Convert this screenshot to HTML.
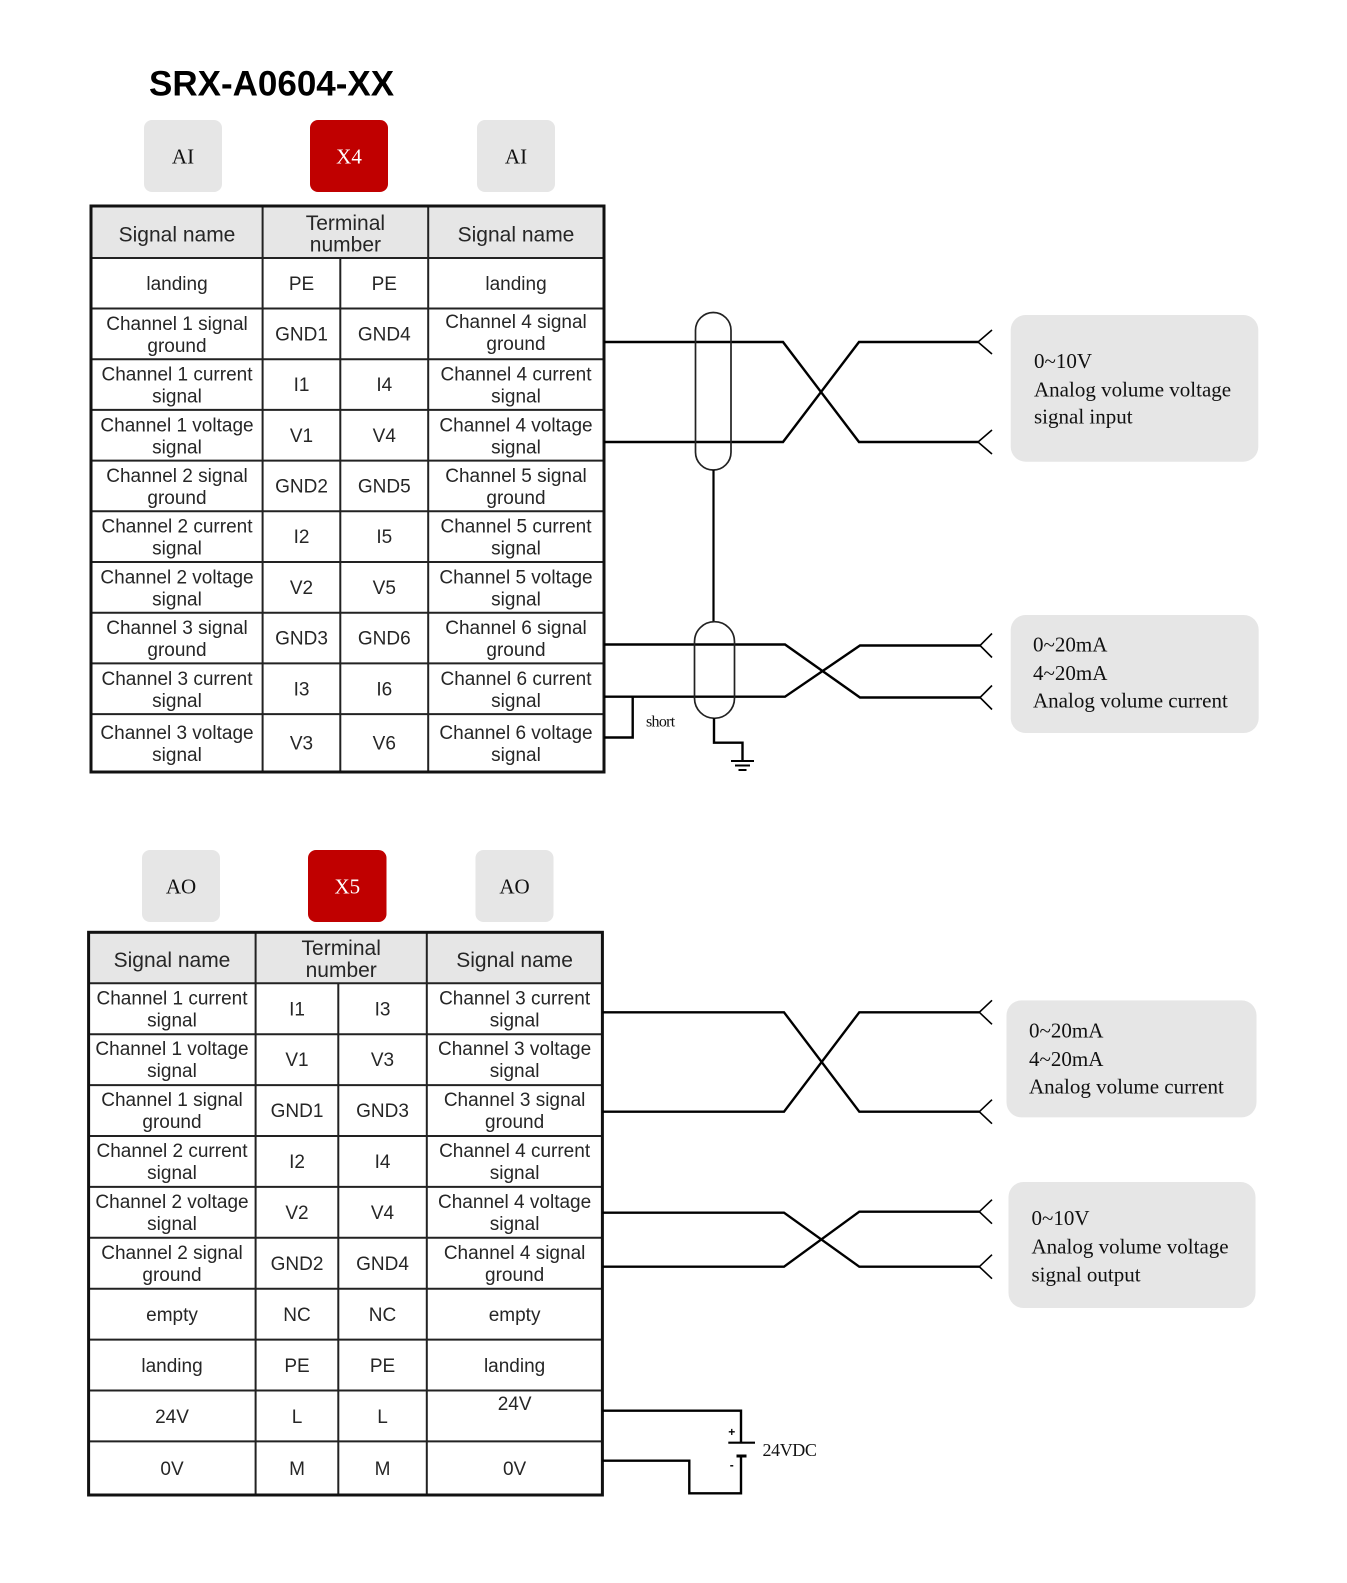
<!DOCTYPE html>
<html><head><meta charset="utf-8"><style>
html,body{margin:0;padding:0;background:#fff;}
svg{display:block;}
.t{font-family:"Liberation Sans",Arial,sans-serif;font-size:19px;fill:#262626;text-anchor:middle;}
.h{font-family:"Liberation Sans",Arial,sans-serif;font-size:21px;fill:#262626;text-anchor:middle;}
.b{font-family:"Liberation Serif","Times New Roman",serif;font-size:21px;text-anchor:middle;}
.g{font-family:"Liberation Serif","Times New Roman",serif;font-size:21px;fill:#111;}
.w{stroke:#000;stroke-width:2.4;fill:none;}
.f{stroke:#000;stroke-width:1.6;fill:none;}
.ln{stroke:#222;stroke-width:2;}
</style></head><body>
<svg width="1347" height="1583" viewBox="0 0 1347 1583" xmlns="http://www.w3.org/2000/svg">
<rect width="1347" height="1583" fill="#fff"/>
<text x="149" y="95.5" font-family="Liberation Sans,Arial,sans-serif" font-weight="bold" font-size="35" fill="#000">SRX-A0604-XX</text>

<!-- upper badges -->
<rect x="144" y="120" width="78" height="72" rx="8" fill="#e6e6e6"/>
<text class="b" x="183" y="163.5" fill="#111">AI</text>
<rect x="310" y="120" width="78" height="72" rx="8" fill="#c00000"/>
<text class="b" x="349" y="163.5" fill="#fff">X4</text>
<rect x="477" y="120" width="78" height="72" rx="8" fill="#e6e6e6"/>
<text class="b" x="516" y="163.5" fill="#111">AI</text>

<!-- upper table -->
<rect x="91" y="206" width="513" height="52" fill="#e6e6e6"/>
<g class="ln">
<line x1="91" y1="258" x2="604" y2="258"/>
<line x1="91" y1="308.5" x2="604" y2="308.5"/>
<line x1="91" y1="359.2" x2="604" y2="359.2"/>
<line x1="91" y1="409.9" x2="604" y2="409.9"/>
<line x1="91" y1="460.6" x2="604" y2="460.6"/>
<line x1="91" y1="511.3" x2="604" y2="511.3"/>
<line x1="91" y1="562" x2="604" y2="562"/>
<line x1="91" y1="612.7" x2="604" y2="612.7"/>
<line x1="91" y1="663.4" x2="604" y2="663.4"/>
<line x1="91" y1="714.1" x2="604" y2="714.1"/>
<line x1="262.6" y1="206" x2="262.6" y2="772"/>
<line x1="340.3" y1="258" x2="340.3" y2="772"/>
<line x1="428.2" y1="206" x2="428.2" y2="772"/>
</g>
<rect x="91" y="206" width="513" height="566" fill="none" stroke="#111" stroke-width="3"/>

<text class="h" x="177" y="241.7">Signal name</text>
<text class="h" x="345.4" y="230">Terminal</text>
<text class="h" x="345.4" y="251.7">number</text>
<text class="h" x="516" y="241.7">Signal name</text>

<text class="t" x="177" y="289.8">landing</text><text class="t" x="301.5" y="289.8">PE</text><text class="t" x="384.3" y="289.8">PE</text><text class="t" x="516" y="289.8">landing</text>

<text class="t" x="177" y="329.9">Channel 1 signal</text><text class="t" x="177" y="351.9">ground</text>
<text class="t" x="301.5" y="340.4">GND1</text><text class="t" x="384.3" y="340.4">GND4</text>
<text class="t" x="516" y="328">Channel 4 signal</text><text class="t" x="516" y="350">ground</text>

<text class="t" x="177" y="380.6">Channel 1 current</text><text class="t" x="177" y="402.6">signal</text>
<text class="t" x="301.5" y="391">I1</text><text class="t" x="384.3" y="391">I4</text>
<text class="t" x="516" y="380.6">Channel 4 current</text><text class="t" x="516" y="402.6">signal</text>

<text class="t" x="177" y="431.3">Channel 1 voltage</text><text class="t" x="177" y="453.3">signal</text>
<text class="t" x="301.5" y="441.8">V1</text><text class="t" x="384.3" y="441.8">V4</text>
<text class="t" x="516" y="431.3">Channel 4 voltage</text><text class="t" x="516" y="453.3">signal</text>

<text class="t" x="177" y="482">Channel 2 signal</text><text class="t" x="177" y="504">ground</text>
<text class="t" x="301.5" y="492.5">GND2</text><text class="t" x="384.3" y="492.5">GND5</text>
<text class="t" x="516" y="482">Channel 5 signal</text><text class="t" x="516" y="504">ground</text>

<text class="t" x="177" y="532.7">Channel 2 current</text><text class="t" x="177" y="554.7">signal</text>
<text class="t" x="301.5" y="543.2">I2</text><text class="t" x="384.3" y="543.2">I5</text>
<text class="t" x="516" y="532.7">Channel 5 current</text><text class="t" x="516" y="554.7">signal</text>

<text class="t" x="177" y="583.4">Channel 2 voltage</text><text class="t" x="177" y="605.4">signal</text>
<text class="t" x="301.5" y="593.9">V2</text><text class="t" x="384.3" y="593.9">V5</text>
<text class="t" x="516" y="583.4">Channel 5 voltage</text><text class="t" x="516" y="605.4">signal</text>

<text class="t" x="177" y="634.1">Channel 3 signal</text><text class="t" x="177" y="656.1">ground</text>
<text class="t" x="301.5" y="644.6">GND3</text><text class="t" x="384.3" y="644.6">GND6</text>
<text class="t" x="516" y="634.1">Channel 6 signal</text><text class="t" x="516" y="656.1">ground</text>

<text class="t" x="177" y="684.8">Channel 3 current</text><text class="t" x="177" y="706.8">signal</text>
<text class="t" x="301.5" y="695.3">I3</text><text class="t" x="384.3" y="695.3">I6</text>
<text class="t" x="516" y="684.8">Channel 6 current</text><text class="t" x="516" y="706.8">signal</text>

<text class="t" x="177" y="739">Channel 3 voltage</text><text class="t" x="177" y="761">signal</text>
<text class="t" x="301.5" y="749.6">V3</text><text class="t" x="384.3" y="749.6">V6</text>
<text class="t" x="516" y="739">Channel 6 voltage</text><text class="t" x="516" y="761">signal</text>

<!-- upper wiring -->
<path class="w" d="M604,342 H783 L859,442 H978"/>
<path class="w" d="M604,442 H783 L859,342 H978"/>
<path class="f" d="M992,330 L978,342 L992,354"/>
<path class="f" d="M992,430 L978,442 L992,454"/>
<rect x="695.5" y="312.5" width="35.5" height="157.5" rx="17.75" fill="none" stroke="#222" stroke-width="1.7"/>
<line x1="713.5" y1="470" x2="713.5" y2="622" stroke="#000" stroke-width="2.2"/>

<path class="w" d="M604,644.5 H785 L860,697.5 H980"/>
<path class="w" d="M604,696.7 H785 L860,645.5 H980"/>
<path class="f" d="M992,633.5 L980,645.5 L992,657.5"/>
<path class="f" d="M992,685.5 L980,697.5 L992,709.5"/>
<rect x="694.5" y="621.7" width="40" height="96.6" rx="20" fill="none" stroke="#222" stroke-width="1.7"/>
<path class="w" d="M632.7,696.7 V737.5 H604"/>
<text x="646" y="726.5" font-family="Liberation Serif,Times New Roman,serif" font-size="16" letter-spacing="-0.7" fill="#111">short</text>
<path class="w" d="M714,718.3 V742.7 H742.5 V761"/>
<line x1="731" y1="761" x2="754" y2="761" stroke="#000" stroke-width="2"/>
<line x1="735" y1="765.5" x2="750" y2="765.5" stroke="#000" stroke-width="2"/>
<line x1="738.5" y1="770" x2="746.5" y2="770" stroke="#000" stroke-width="2"/>

<!-- upper boxes -->
<rect x="1010.7" y="315" width="247.6" height="146.7" rx="15" fill="#e6e6e6"/>
<text class="g" x="1034" y="368">0~10V</text>
<text class="g" x="1034" y="396.5">Analog volume voltage</text>
<text class="g" x="1034" y="423.5">signal input</text>

<rect x="1010.7" y="615" width="248" height="118" rx="15" fill="#e6e6e6"/>
<text class="g" x="1033" y="651.7">0~20mA</text>
<text class="g" x="1033" y="680">4~20mA</text>
<text class="g" x="1033" y="707.5">Analog volume current</text>

<!-- lower badges -->
<rect x="142" y="850" width="78" height="72" rx="8" fill="#e6e6e6"/>
<text class="b" x="181" y="893.5" fill="#111">AO</text>
<rect x="308" y="850" width="78.5" height="72" rx="8" fill="#c00000"/>
<text class="b" x="347.3" y="893.5" fill="#fff">X5</text>
<rect x="475.5" y="850" width="78" height="72" rx="8" fill="#e6e6e6"/>
<text class="b" x="514.5" y="893.5" fill="#111">AO</text>

<!-- lower table -->
<rect x="88.6" y="932.3" width="513.8" height="51" fill="#e6e6e6"/>
<g class="ln">
<line x1="88.6" y1="983.3" x2="602.4" y2="983.3"/>
<line x1="88.6" y1="1034.2" x2="602.4" y2="1034.2"/>
<line x1="88.6" y1="1085.1" x2="602.4" y2="1085.1"/>
<line x1="88.6" y1="1136" x2="602.4" y2="1136"/>
<line x1="88.6" y1="1186.9" x2="602.4" y2="1186.9"/>
<line x1="88.6" y1="1237.8" x2="602.4" y2="1237.8"/>
<line x1="88.6" y1="1288.7" x2="602.4" y2="1288.7"/>
<line x1="88.6" y1="1339.6" x2="602.4" y2="1339.6"/>
<line x1="88.6" y1="1390.5" x2="602.4" y2="1390.5"/>
<line x1="88.6" y1="1441.4" x2="602.4" y2="1441.4"/>
<line x1="255.6" y1="932.3" x2="255.6" y2="1495"/>
<line x1="338.3" y1="983.3" x2="338.3" y2="1495"/>
<line x1="426.8" y1="932.3" x2="426.8" y2="1495"/>
</g>
<rect x="88.6" y="932.3" width="513.8" height="562.7" fill="none" stroke="#111" stroke-width="3"/>

<text class="h" x="172" y="967">Signal name</text>
<text class="h" x="341.2" y="955">Terminal</text>
<text class="h" x="341.2" y="977">number</text>
<text class="h" x="514.6" y="967">Signal name</text>

<text class="t" x="172" y="1004.3">Channel 1 current</text><text class="t" x="172" y="1026.3">signal</text>
<text class="t" x="297" y="1015.3">I1</text><text class="t" x="382.5" y="1015.3">I3</text>
<text class="t" x="514.6" y="1004.3">Channel 3 current</text><text class="t" x="514.6" y="1026.3">signal</text>

<text class="t" x="172" y="1055.2">Channel 1 voltage</text><text class="t" x="172" y="1077.2">signal</text>
<text class="t" x="297" y="1066.2">V1</text><text class="t" x="382.5" y="1066.2">V3</text>
<text class="t" x="514.6" y="1055.2">Channel 3 voltage</text><text class="t" x="514.6" y="1077.2">signal</text>

<text class="t" x="172" y="1106.1">Channel 1 signal</text><text class="t" x="172" y="1128.1">ground</text>
<text class="t" x="297" y="1117.1">GND1</text><text class="t" x="382.5" y="1117.1">GND3</text>
<text class="t" x="514.6" y="1106.1">Channel 3 signal</text><text class="t" x="514.6" y="1128.1">ground</text>

<text class="t" x="172" y="1157">Channel 2 current</text><text class="t" x="172" y="1179">signal</text>
<text class="t" x="297" y="1168">I2</text><text class="t" x="382.5" y="1168">I4</text>
<text class="t" x="514.6" y="1157">Channel 4 current</text><text class="t" x="514.6" y="1179">signal</text>

<text class="t" x="172" y="1207.9">Channel 2 voltage</text><text class="t" x="172" y="1229.9">signal</text>
<text class="t" x="297" y="1218.9">V2</text><text class="t" x="382.5" y="1218.9">V4</text>
<text class="t" x="514.6" y="1207.9">Channel 4 voltage</text><text class="t" x="514.6" y="1229.9">signal</text>

<text class="t" x="172" y="1258.8">Channel 2 signal</text><text class="t" x="172" y="1280.8">ground</text>
<text class="t" x="297" y="1269.8">GND2</text><text class="t" x="382.5" y="1269.8">GND4</text>
<text class="t" x="514.6" y="1258.8">Channel 4 signal</text><text class="t" x="514.6" y="1280.8">ground</text>

<text class="t" x="172" y="1321">empty</text><text class="t" x="297" y="1321">NC</text><text class="t" x="382.5" y="1321">NC</text><text class="t" x="514.6" y="1321">empty</text>
<text class="t" x="172" y="1371.8">landing</text><text class="t" x="297" y="1371.8">PE</text><text class="t" x="382.5" y="1371.8">PE</text><text class="t" x="514.6" y="1371.8">landing</text>
<text class="t" x="172" y="1423">24V</text><text class="t" x="297" y="1423">L</text><text class="t" x="382.5" y="1423">L</text><text class="t" x="514.6" y="1410">24V</text>
<text class="t" x="172" y="1475">0V</text><text class="t" x="297" y="1475">M</text><text class="t" x="382.5" y="1475">M</text><text class="t" x="514.6" y="1475">0V</text>

<!-- lower wiring -->
<path class="w" d="M602.4,1012.3 H784 L859.3,1111.7 H979.3"/>
<path class="w" d="M602.4,1111.7 H784 L859.3,1012.3 H979.3"/>
<path class="f" d="M992,1000.3 L979.3,1012.3 L992,1024.3"/>
<path class="f" d="M992,1099.7 L979.3,1111.7 L992,1123.7"/>
<path class="w" d="M602.4,1212.7 H784 L859.3,1266.7 H979.3"/>
<path class="w" d="M602.4,1266.7 H784 L859.3,1211.7 H979.3"/>
<path class="f" d="M992,1199.7 L979.3,1211.7 L992,1223.7"/>
<path class="f" d="M992,1254.7 L979.3,1266.7 L992,1278.7"/>

<!-- 24VDC -->
<path class="w" d="M602.4,1410.7 H741 V1442.7"/>
<line x1="728.3" y1="1442.7" x2="755" y2="1442.7" stroke="#000" stroke-width="2.2"/>
<line x1="736.5" y1="1456" x2="746.5" y2="1456" stroke="#000" stroke-width="3"/>
<path class="w" d="M741,1456 V1493.3 H689.3 V1460.7 H602.4"/>
<text x="731.7" y="1436" font-family="Liberation Sans,Arial,sans-serif" font-size="12" font-weight="bold" text-anchor="middle" fill="#000">+</text>
<text x="731.7" y="1469" font-family="Liberation Sans,Arial,sans-serif" font-size="12" font-weight="bold" text-anchor="middle" fill="#000">-</text>
<text x="762.5" y="1456" font-family="Liberation Serif,Times New Roman,serif" font-size="18" letter-spacing="-0.4" fill="#111">24VDC</text>

<!-- lower boxes -->
<rect x="1006.5" y="1000.4" width="250" height="117" rx="15" fill="#e6e6e6"/>
<text class="g" x="1029" y="1037.5">0~20mA</text>
<text class="g" x="1029" y="1066">4~20mA</text>
<text class="g" x="1029" y="1093.5">Analog volume current</text>

<rect x="1008.5" y="1182" width="247" height="126" rx="15" fill="#e6e6e6"/>
<text class="g" x="1031.5" y="1225">0~10V</text>
<text class="g" x="1031.5" y="1253.5">Analog volume voltage</text>
<text class="g" x="1031.5" y="1281.5">signal output</text>
</svg>
</body></html>
